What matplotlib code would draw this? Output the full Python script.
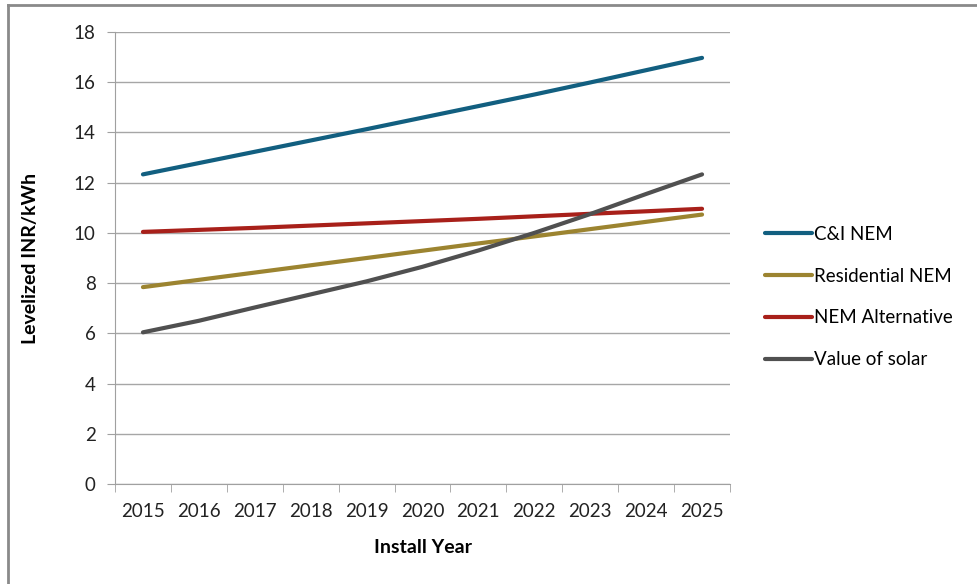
import numpy as np
import matplotlib.pyplot as plt
from matplotlib.lines import Line2D

years = ["2015", "2016", "2017", "2018", "2019", "2020", "2021", "2022", "2023", "2024", "2025"]
ci_nem = [12.33, 12.78, 13.23, 13.68, 14.13, 14.59, 15.05, 15.51, 15.99, 16.48, 16.97]
res_nem = [7.84, 8.13, 8.42, 8.71, 9.00, 9.29, 9.58, 9.86, 10.15, 10.44, 10.73]
nem_alt = [10.04, 10.12, 10.20, 10.29, 10.38, 10.47, 10.56, 10.66, 10.76, 10.86, 10.96]
vos = [6.04, 6.50, 7.03, 7.55, 8.07, 8.65, 9.30, 10.00, 10.75, 11.55, 12.33]

labels = ["C&I NEM", "Residential NEM", "NEM Alternative", "Value of solar"]
colors = ["#125f80", "#9c8430", "#a8201a", "#505050"]

plt.rcParams['font.family'] = ['Lato', 'DejaVu Sans']

fig = plt.figure(figsize=(9.77, 5.84), dpi=100)
ax = fig.add_axes([115/977, 1-484/584, (730-115)/977, (484-32)/584])

x = np.arange(len(years))
for s, lab, c in zip([ci_nem, res_nem, nem_alt, vos], labels, colors):
    ax.plot(x, s, color=c, lw=3, label=lab, solid_capstyle='round')

ax.set_xlim(-0.5, len(years)-0.5)
ax.set_ylim(0, 18)
ax.set_yticks(np.arange(0, 19, 2))
ax.set_xticks(x)
ax.set_xticklabels(years)
ax.set_xticks(np.arange(-0.5, len(years), 1), minor=True)
ax.tick_params(axis='x', which='major', length=0, pad=14, labelsize=13.5, colors='#222222')
ax.tick_params(axis='x', which='minor', length=6, color='#a0a0a0')
ax.tick_params(axis='y', length=6, color='#a0a0a0', pad=8, labelsize=13.5, labelcolor='#222222')
ax.grid(axis='y', color='#a6a6a6', lw=1)
ax.set_axisbelow(True)
for sp in ['top', 'right']:
    ax.spines[sp].set_visible(False)
ax.spines['left'].set_color('#a0a0a0')
ax.spines['bottom'].set_color('#a0a0a0')

ax.set_xlabel("Install Year", fontsize=14, fontweight='bold')
ax.set_ylabel("Levelized INR/kWh", fontsize=14, fontweight='bold')
ax.xaxis.set_label_coords(0.5, -(539-484)/452)
ax.yaxis.set_label_coords(-(115-39)/615, 0.5)

ax.legend(loc='center left', bbox_to_anchor=(1.03, (484-297)/452), frameon=False,
          fontsize=13.5, handlelength=2.5, handletextpad=0.1, labelspacing=1.33)

# outer frame (top and left edges)
fig.add_artist(Line2D([8/977, 1], [1-5/584, 1-5/584], color='#8a8a8a', lw=2))
fig.add_artist(Line2D([8/977, 8/977], [0, 1-5/584], color='#8a8a8a', lw=2))

fig.savefig("out.png", dpi=100)
